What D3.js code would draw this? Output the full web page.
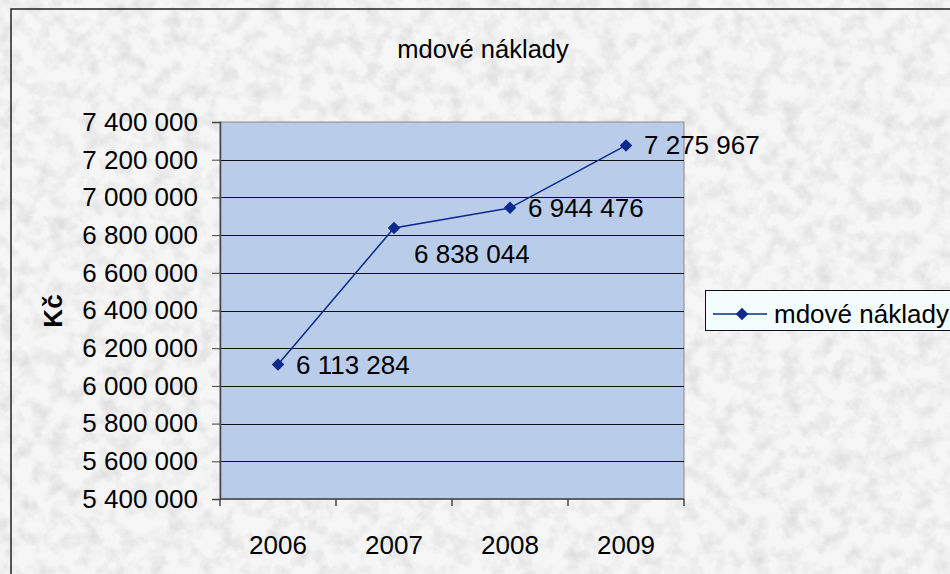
<!DOCTYPE html>
<html>
<head>
<meta charset="utf-8">
<script src="https://cdn.jsdelivr.net/npm/d3@7"></script>
<style>
  html, body { margin: 0; padding: 0; background: #fff; }
  svg { display: block; font-family: "Liberation Sans", Arial, sans-serif; }
</style>
</head>
<body>
<div id="chart"></div>
<script>
// données
const years = ["2006", "2007", "2008", "2009"];
const costs = [6113284, 6838044, 6944476, 7275967];
const yTicks = [5400000, 5600000, 5800000, 6000000, 6200000, 6400000, 6600000, 6800000, 7000000, 7200000, 7400000];
const seriesName = "mdové náklady";
const chartTitle = "mdové náklady";
const yTitle = "Kč";

function createChart() {
    const width = 950;
    const height = 574;
    const plot = { left: 220, top: 122, right: 684, bottom: 499 };
    const lineColor = "#0b2a8c";
    const fontSize = 26;

    const cz = d3.formatLocale({ decimal: ",", thousands: " ", grouping: [3], currency: ["", " Kč"] });
    const fmt = cz.format(",");

    const svg = d3.select("#chart").append("svg")
        .attr("width", width)
        .attr("height", height);

    // texture granit pour le fond
    const defs = svg.append("defs");
    const f = defs.append("filter").attr("id", "granite")
        .attr("x", 0).attr("y", 0).attr("width", "100%").attr("height", "100%");
    f.append("feTurbulence")
        .attr("type", "fractalNoise")
        .attr("baseFrequency", "0.06")
        .attr("numOctaves", 4)
        .attr("seed", 7)
        .attr("result", "noise");
    f.append("feColorMatrix")
        .attr("in", "noise")
        .attr("type", "matrix")
        .attr("values", "0 0 0 0 0.72  0 0 0 0 0.72  0 0 0 0 0.72  1.9 0 0 0 -0.78");

    svg.append("rect")
        .attr("width", width).attr("height", height)
        .attr("fill", "#f6f6f6");
    svg.append("rect")
        .attr("width", width).attr("height", height)
        .attr("filter", "url(#granite)");

    // cadre extérieur
    svg.append("rect")
        .attr("x", 11).attr("y", 9)
        .attr("width", width).attr("height", height)
        .attr("fill", "none")
        .attr("stroke", "#222")
        .attr("stroke-width", 1.5);

    const x = d3.scaleBand()
        .domain(years)
        .range([plot.left, plot.right])
        .padding(0);

    const y = d3.scaleLinear()
        .domain([yTicks[0], yTicks[yTicks.length - 1]])
        .range([plot.bottom, plot.top]);

    // zone de tracé
    svg.append("rect")
        .attr("x", plot.left).attr("y", plot.top)
        .attr("width", plot.right - plot.left)
        .attr("height", plot.bottom - plot.top)
        .attr("fill", "#b9cce9")
        .attr("stroke", "#8a8a8a")
        .attr("stroke-width", 1);

    // grille
    svg.append("g")
        .selectAll("line")
        .data(yTicks.slice(1, -1))
        .join("line")
        .attr("x1", plot.left).attr("x2", plot.right)
        .attr("y1", d => Math.round(y(d)) + 0.5)
        .attr("y2", d => Math.round(y(d)) + 0.5)
        .attr("stroke", "#111")
        .attr("stroke-width", 1);

    // axe Y
    const yAxis = svg.append("g")
        .attr("transform", `translate(${plot.left},0)`)
        .call(d3.axisLeft(y).tickValues(yTicks).tickFormat(fmt).tickSize(8).tickPadding(14));
    yAxis.select(".domain").attr("stroke", "#444").attr("stroke-width", 1.5);
    yAxis.selectAll(".tick line").attr("stroke", "#444");
    yAxis.selectAll(".tick text")
        .attr("font-size", fontSize)
        .attr("fill", "#000")
        .attr("font-family", "Liberation Sans, Arial, sans-serif");

    // axe X
    const xAxis = svg.append("g")
        .attr("transform", `translate(0,${plot.bottom})`);
    xAxis.append("line")
        .attr("x1", plot.left).attr("x2", plot.right)
        .attr("stroke", "#444").attr("stroke-width", 1.5);
    const bounds = years.map(d => x(d)).concat([x(years[years.length - 1]) + x.bandwidth()]);
    xAxis.selectAll(".xtick")
        .data(bounds)
        .join("line")
        .attr("class", "xtick")
        .attr("x1", d => d).attr("x2", d => d)
        .attr("y1", 0).attr("y2", 7)
        .attr("stroke", "#444").attr("stroke-width", 1.5);
    xAxis.selectAll(".xlabel")
        .data(years)
        .join("text")
        .attr("class", "xlabel")
        .attr("x", d => x(d) + x.bandwidth() / 2)
        .attr("y", 55)
        .attr("text-anchor", "middle")
        .attr("font-size", fontSize)
        .text(d => d);

    // titre
    svg.append("text")
        .attr("x", 483).attr("y", 58)
        .attr("text-anchor", "middle")
        .attr("font-size", 25.5)
        .text(chartTitle);

    // titre axe Y
    svg.append("text")
        .attr("transform", `translate(62,311) rotate(-90)`)
        .attr("text-anchor", "middle")
        .attr("font-size", 26)
        .attr("font-weight", "bold")
        .text(yTitle);

    // série
    const points = years.map((d, i) => ({ year: d, value: costs[i] }));
    const cx = d => x(d.year) + x.bandwidth() / 2;

    svg.append("path")
        .datum(points)
        .attr("fill", "none")
        .attr("stroke", lineColor)
        .attr("stroke-width", 1.5)
        .attr("d", d3.line().x(cx).y(d => y(d.value)));

    const diamond = d3.symbol().type(d3.symbolSquare).size(78);
    svg.selectAll(".marker")
        .data(points)
        .join("path")
        .attr("class", "marker")
        .attr("transform", d => `translate(${cx(d)},${y(d.value)}) rotate(45)`)
        .attr("d", diamond)
        .attr("fill", lineColor);

    // étiquettes de données (la 2e est placée en dessous)
    svg.selectAll(".dlabel")
        .data(points)
        .join("text")
        .attr("class", "dlabel")
        .attr("x", (d, i) => cx(d) + (i === 1 ? 20 : 18))
        .attr("y", (d, i) => y(d.value) + (i === 1 ? 26 : 0))
        .attr("dy", "0.35em")
        .attr("font-size", fontSize)
        .text(d => fmt(d.value));

    // légende
    const legend = svg.append("g").attr("transform", "translate(705,290)");
    legend.append("rect")
        .attr("x", 0.5).attr("y", 0.5)
        .attr("width", 260).attr("height", 40)
        .attr("fill", "#f4fdfd")
        .attr("stroke", "#111");
    legend.append("line")
        .attr("x1", 8).attr("x2", 62)
        .attr("y1", 24).attr("y2", 24)
        .attr("stroke", lineColor).attr("stroke-width", 1.5);
    legend.append("path")
        .attr("transform", "translate(37,24) rotate(45)")
        .attr("d", diamond)
        .attr("fill", lineColor);
    legend.append("text")
        .attr("x", 69).attr("y", 24)
        .attr("dy", "0.35em")
        .attr("font-size", fontSize)
        .text(seriesName);
}

createChart();
</script>
</body>
</html>
